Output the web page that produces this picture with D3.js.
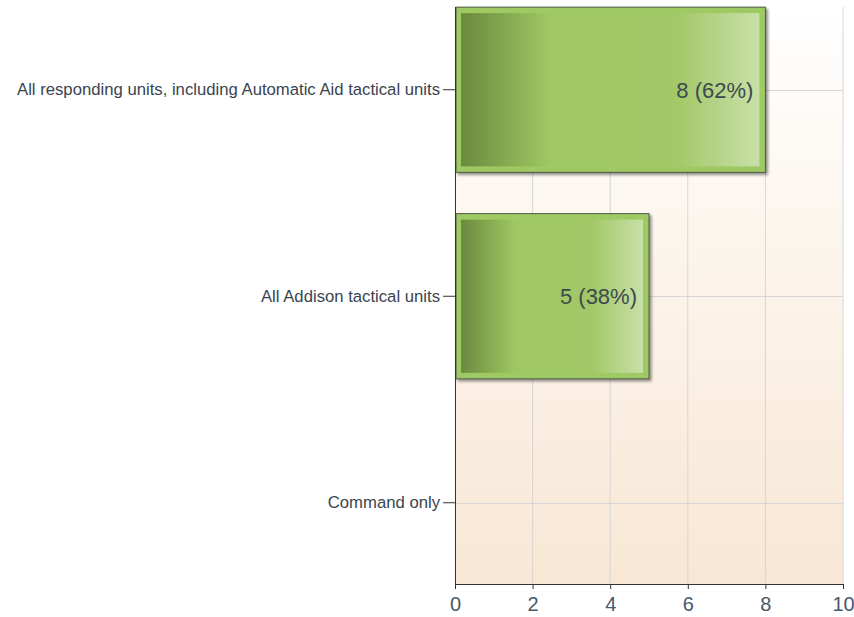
<!DOCTYPE html>
<html><head><meta charset="utf-8">
<script src="https://cdn.jsdelivr.net/npm/d3@7"></script>
<style>body{margin:0;background:#fff}svg{display:block}</style>
</head><body>
<svg id="c" width="854" height="617"></svg>
<script>
const categories = ["All responding units, including Automatic Aid tactical units", "All Addison tactical units", "Command only"];
const values = [8, 5, 0];
const labels = ["8 (62%)", "5 (38%)", ""];
const xTicks = [0, 2, 4, 6, 8, 10];

const svg = d3.select("#c");
const L = 455, R = 843, T = 7, B = 584;
const x = d3.scaleLinear().domain([0, 10]).range([L, R]);
const y = d3.scaleBand().domain(categories).range([-13.5, 606]).paddingInner(0.2).paddingOuter(0.1);
const FONT = "Arial, 'Liberation Sans', sans-serif";

const defs = svg.append("defs");
const bg = defs.append("linearGradient").attr("id", "bg").attr("x1", 0).attr("y1", 0).attr("x2", 0).attr("y2", 1);
bg.append("stop").attr("offset", "0").attr("stop-color", "#ffffff");
bg.append("stop").attr("offset", "1").attr("stop-color", "#f8e7d4");
const bar = defs.append("linearGradient").attr("id", "bar").attr("x1", 0).attr("y1", 0).attr("x2", 1).attr("y2", 0);
[["0", "#6a8a3e"], ["0.3", "#9fc863"], ["0.72", "#a2c867"], ["1", "#c8e0a8"]].forEach(s =>
  bar.append("stop").attr("offset", s[0]).attr("stop-color", s[1]));
const sh = defs.append("filter").attr("id", "sh").attr("x", "-5%").attr("y", "-5%").attr("width", "115%").attr("height", "115%");
sh.append("feDropShadow").attr("dx", 2).attr("dy", 2).attr("stdDeviation", 1.5).attr("flood-color", "#000").attr("flood-opacity", 0.45);

svg.append("rect").attr("x", L).attr("y", T).attr("width", R - L).attr("height", B - T).attr("fill", "url(#bg)");

// grid
svg.append("g").selectAll("line").data(xTicks.slice(1)).join("line")
  .attr("x1", d => x(d)).attr("x2", d => x(d)).attr("y1", T).attr("y2", B)
  .attr("stroke", "#d6d6d6").attr("stroke-width", 1);
svg.append("g").selectAll("line").data(categories).join("line")
  .attr("x1", L).attr("x2", R).attr("y1", d => Math.round(y(d) + y.bandwidth() / 2) + 0.5).attr("y2", d => Math.round(y(d) + y.bandwidth() / 2) + 0.5)
  .attr("stroke", "#d6d6d6");

// bars
const bars = svg.append("g").selectAll("g").data(categories.map((c, i) => ({c, v: values[i], l: labels[i]})).filter(d => d.v > 0)).join("g");
bars.append("rect")
  .attr("x", L + 1).attr("y", d => y(d.c)).attr("width", d => x(d.v) - L - 1).attr("height", y.bandwidth())
  .attr("fill", "#9fca63").attr("stroke", "#4e5a44").attr("stroke-width", 1).attr("filter", "url(#sh)");
bars.append("rect")
  .attr("x", L + 6).attr("y", d => y(d.c) + 6).attr("width", d => x(d.v) - L - 12).attr("height", y.bandwidth() - 12)
  .attr("fill", "url(#bar)");
bars.append("text")
  .attr("x", d => x(d.v) - 12).attr("y", d => y(d.c) + y.bandwidth() / 2 + 8)
  .attr("text-anchor", "end").attr("font-family", FONT).attr("font-size", 22)
  .attr("fill", "#3c4a4e").text(d => d.l);

// axes
const xa = svg.append("g").attr("transform", `translate(0,${B})`)
  .call(d3.axisBottom(x).tickValues(xTicks).tickSize(5).tickPadding(8));
xa.select(".domain").attr("stroke", "#333");
xa.selectAll(".tick line").attr("stroke", "#333");
xa.selectAll("text").attr("font-family", FONT).attr("font-size", 20).attr("fill", "#4a5868");

const ya = svg.append("g").attr("transform", `translate(${L},0)`)
  .call(d3.axisLeft(y).tickSize(12).tickPadding(3));
ya.select(".domain").remove();
svg.append("line").attr("x1", L + 0.5).attr("x2", L + 0.5).attr("y1", T).attr("y2", B).attr("stroke", "#333");
ya.selectAll(".tick line").attr("stroke", "#333");
ya.selectAll("text").attr("font-family", FONT).attr("font-size", 16.7).attr("fill", "#3a4450");
</script>
</body></html>
